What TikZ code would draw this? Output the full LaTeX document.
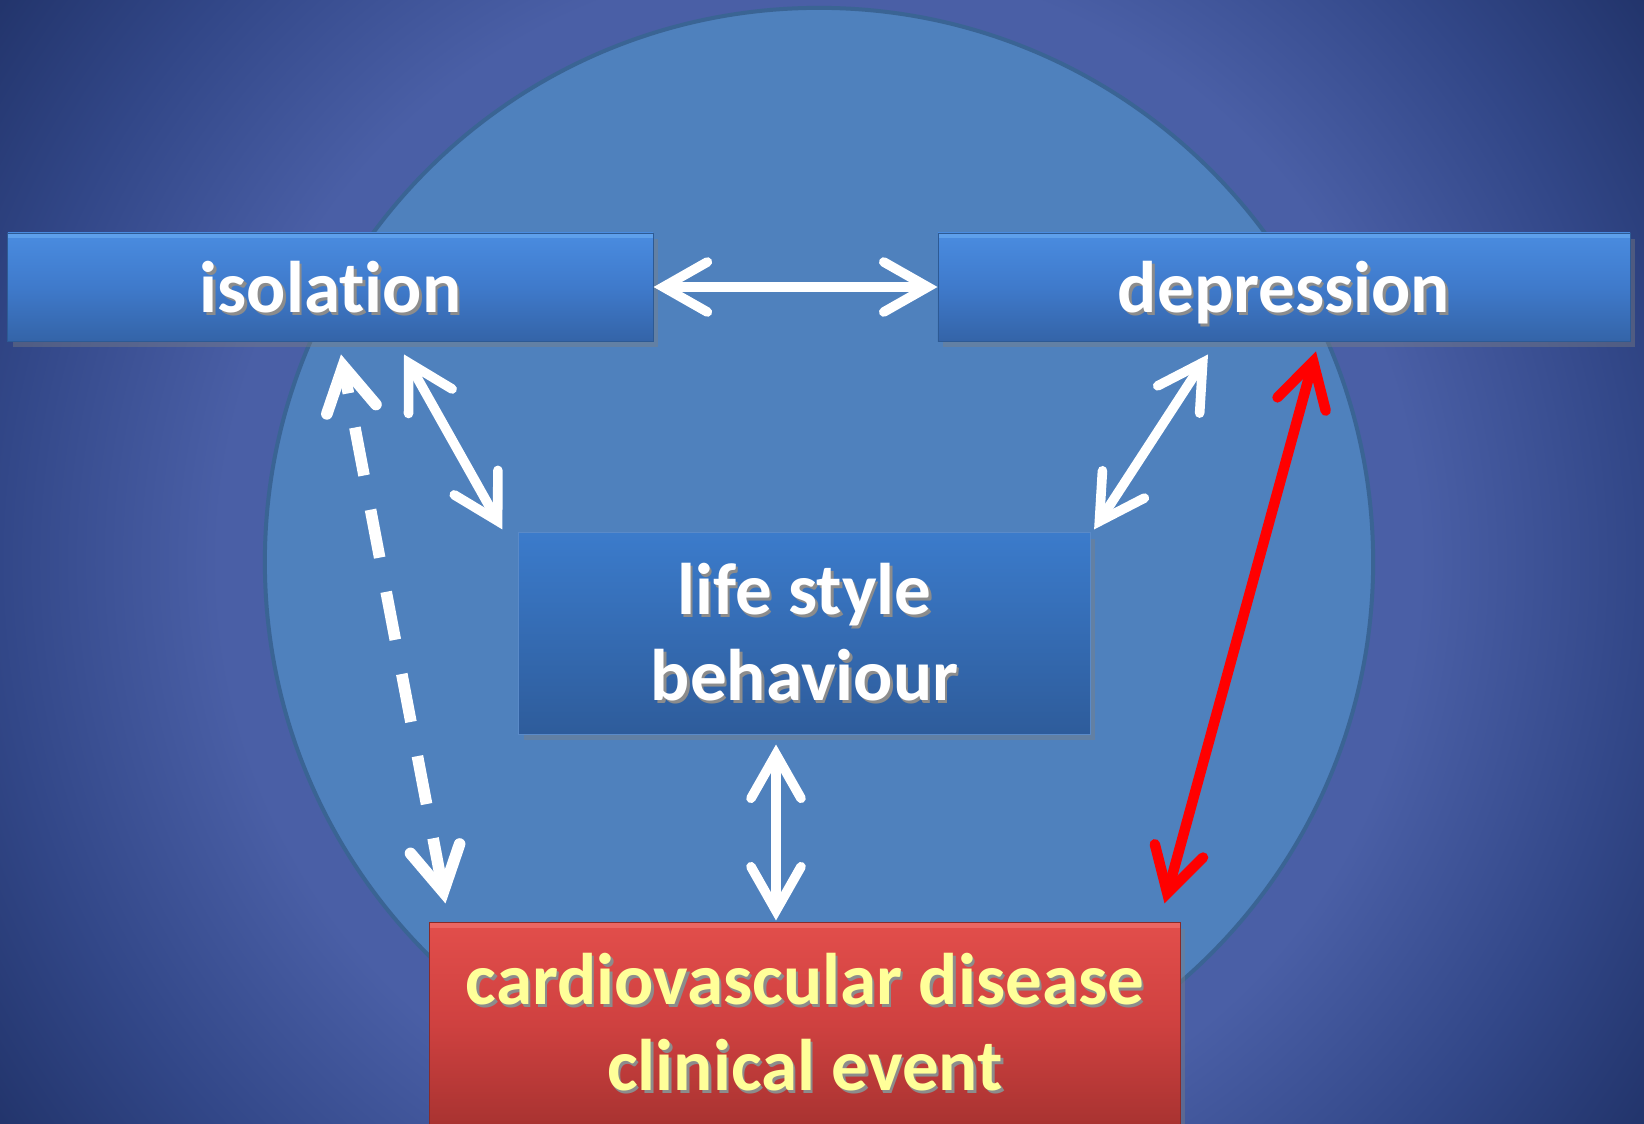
\documentclass[tikz,border=0pt]{standalone}
\usepackage{fontspec}
\setmainfont{Carlito}[Ligatures=NoCommon]
\usepackage{tikz}
\usetikzlibrary{arrows.meta, calc, shadows}
\usepackage{xcolor}

\definecolor{bgin}{HTML}{4A5FA6}
\definecolor{bgmid}{HTML}{324788}
\definecolor{bgout}{HTML}{22346B}
\definecolor{ringfill}{HTML}{4F81BD}
\definecolor{ringline}{HTML}{3A6494}
\definecolor{boxtop}{HTML}{4A8CE0}
\definecolor{boxmid}{HTML}{3F7ACB}
\definecolor{boxbot}{HTML}{3464A8}
\definecolor{boxline}{HTML}{2D5A94}
\definecolor{boxhl}{HTML}{6FB0F5}
\definecolor{lifetop}{HTML}{3B7BCB}
\definecolor{lifebot}{HTML}{2E5C9B}
\definecolor{lifeline}{HTML}{5A8AC8}
\definecolor{cvdtop}{HTML}{E24E4B}
\definecolor{cvdmid}{HTML}{CF4140}
\definecolor{cvdbot}{HTML}{A93331}
\definecolor{cvdline}{HTML}{8A2A28}
\definecolor{cvdhl}{HTML}{F47A76}
\definecolor{cvdtext}{HTML}{FFFF99}
\definecolor{redarrow}{HTML}{FF0000}

\pgfdeclareradialshading{bgglow}{\pgfpoint{0bp}{0bp}}{color(0bp)=(bgin); color(15bp)=(bgin); color(20.5bp)=(bgmid); color(25bp)=(bgout); color(50bp)=(bgout)}

% text with a soft dark shadow
\newcommand{\shtxt}[1]{\leavevmode\rlap{\kern1.8pt\raisebox{-1.8pt}{\textcolor{black!45}{#1}}}#1}

\begin{document}
\begin{tikzpicture}[
        x=0.025cm, y=-0.025cm,
        >={Straight Barb[line cap=round, line join=miter, length=11mm, width=12.5mm]},
        blk/.style={rectangle, line width=0.6pt, text=white,
                    align=center, font=\fontsize{52}{61}\selectfont\bfseries,
                    drop shadow={shadow xshift=1.2mm, shadow yshift=-1.5mm, opacity=0.4}},
        bluebox/.style={blk, draw=boxline, top color=boxtop, bottom color=boxbot, middle color=boxmid,
                    path picture={\fill[boxhl, opacity=0.55] (path picture bounding box.north west)
                        rectangle ([yshift=-1.3mm]path picture bounding box.north east);}},
        lifebox/.style={blk, draw=lifeline, top color=lifetop, bottom color=lifebot},
        cvdbox/.style={blk, draw=cvdline, top color=cvdtop, bottom color=cvdbot, middle color=cvdmid, text=cvdtext,
                    path picture={\fill[cvdhl, opacity=0.55] (path picture bounding box.north west)
                        rectangle ([yshift=-1.3mm]path picture bounding box.north east);}},
        arr/.style={<->, line width=2.4mm, white},
        dasharr/.style={<->, line width=2.9mm, white, dash pattern=on 12.2mm off 8.7mm},
        redarr/.style={<->, line width=2.6mm, redarrow},
    ]
    \useasboundingbox (0,0) rectangle (1644,1124);
    \clip (0,0) rectangle (1644,1124);

    % background and circle
    \fill[bgout] (0,0) rectangle (1644,1124);
    \shade[shading=bgglow] (819,562) circle (25cm);
    \draw[ringline, line width=1mm, fill=ringfill] (819,562) circle (13.85cm);

    \node[bluebox, minimum width=16.13cm, minimum height=2.7cm, text depth=0pt] (iso) at (330.5,287) {\shtxt{isolation}};
    \node[bluebox, minimum width=17.3cm, minimum height=2.7cm, text depth=0pt]  (dep) at (1284,287)  {\shtxt{depression}};
    \node[lifebox, minimum width=14.28cm, minimum height=5.03cm] (life) at (804.5,633.5) {\shtxt{life style}\\\shtxt{behaviour}};
    \node[cvdbox, minimum width=18.75cm, minimum height=5.03cm]  (cvd)  at (805,1023.5)  {\shtxt{cardiovascular disease}\\\shtxt{clinical event}};

    \draw[arr] (iso.east) -- (dep.west);
    \draw[arr] ($(iso.south)+(73.5,13)$) -- ($(life.north west)+(-16,-3)$);
    \draw[arr] ($(dep.south)+(-76,13)$) -- ($(life.north east)+(3.5,-3)$);
    \draw[arr] ($(life.south)+(-28.5,10)$) -- ($(cvd.north)+(-29,-2)$);
    \draw[dasharr] ($(cvd.north west)+(16,-19)$) -- ($(iso.south)+(10.5,13)$);
    \draw[redarr] ($(dep.south)+(32,10)$) -- ($(cvd.north east)+(-16,-19)$);
\end{tikzpicture}
\end{document}
